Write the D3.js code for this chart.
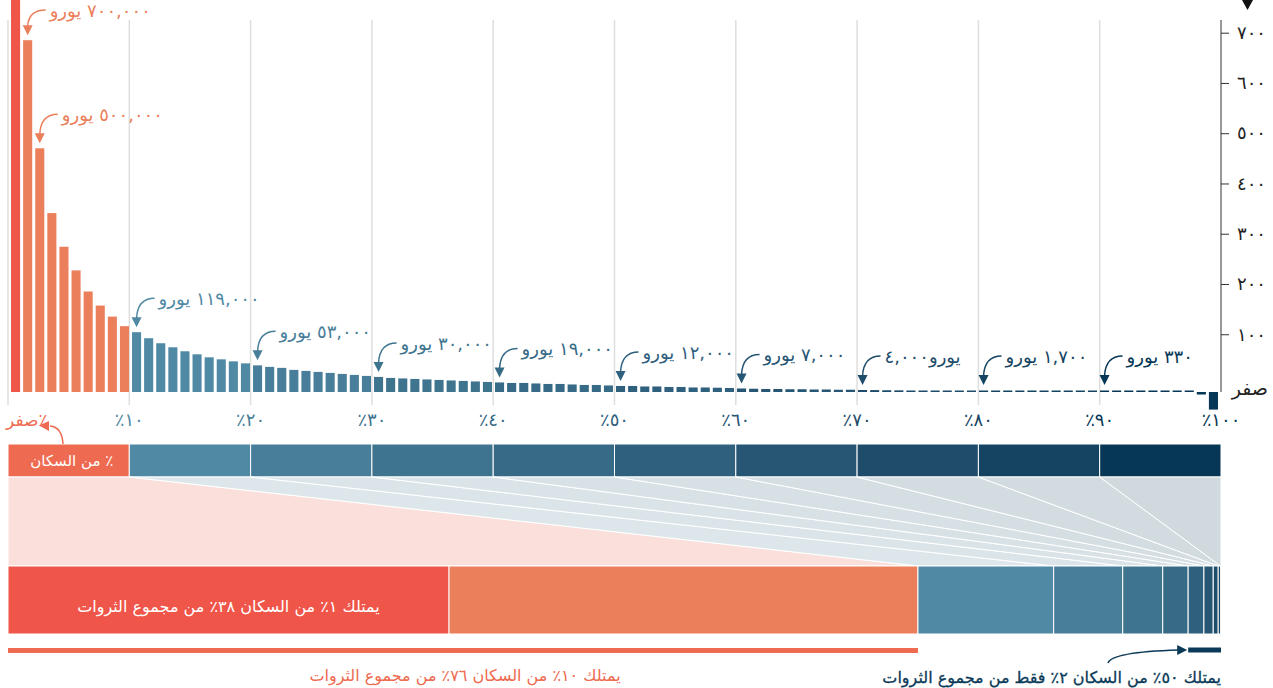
<!DOCTYPE html>
<html>
<head>
<meta charset="utf-8">
<script src="https://cdn.jsdelivr.net/npm/d3@7"></script>
<style>
  body { margin: 0; background: #fff; }
  svg text { font-family: "DejaVu Sans", sans-serif; }
</style>
</head>
<body>
<div id="chart"></div>
<script>
// wealth per percentile, thousands of euros (richest first)
var percentileWealth = [
  1500, 700, 485, 356, 289, 242, 200, 172, 150, 131,
  119, 107, 97, 89, 81, 75, 69, 65, 61, 57,
  53, 50, 48, 44, 42, 40, 38, 36, 34, 32,
  30, 28, 27, 26, 25, 24, 23, 22, 21, 20,
  19, 18, 18, 17, 16, 16, 15, 14, 14, 13,
  12, 12, 11, 11, 10, 10, 9, 9, 8.5, 8,
  7, 6.5, 6, 6, 5.5, 5.5, 5, 5, 4.5, 4.5,
  4, 3.8, 3.5, 3.3, 3, 2.8, 2.6, 2.4, 2.2, 2,
  1.7, 1.5, 1.3, 1.2, 1.0, 0.9, 0.8, 0.7, 0.6, 0.5,
  0.33, 0.25, 0.2, 0.15, 0.1, 0.05, 0.02, 0, -5, -35
];

var yTicks = [100, 200, 300, 400, 500, 600, 700];
var yTickLabels = ["١٠٠", "٢٠٠", "٣٠٠", "٤٠٠", "٥٠٠", "٦٠٠", "٧٠٠"];
var xTicks = [0, 10, 20, 30, 40, 50, 60, 70, 80, 90, 100];
var xTickLabels = ["٪صفر", "١٠٪", "٢٠٪", "٣٠٪", "٤٠٪", "٥٠٪", "٦٠٪", "٧٠٪", "٨٠٪", "٩٠٪", "١٠٠٪"];

// annotated percentiles (1-based) and their labels
var notePercentile = [2, 3, 11, 21, 31, 41, 51, 61, 71, 81, 91];
var noteText = ["٧٠٠,٠٠٠ يورو", "٥٠٠,٠٠٠ يورو", "١١٩,٠٠٠ يورو", "٥٣,٠٠٠ يورو", "٣٠,٠٠٠ يورو",
  "١٩,٠٠٠ يورو", "١٢,٠٠٠ يورو", "٧,٠٠٠ يورو", "يورو٤,٠٠٠", "١,٧٠٠ يورو", "٣٣٠ يورو"];

// share of total wealth (%) : top 1%, percentiles 2-10, then deciles 2..10
var shareGroups = ["top1", "top2_10", "d2", "d3", "d4", "d5", "d6", "d7", "d8", "d9", "d10"];
var wealthShare = [36.4, 38.7, 11.2, 5.7, 3.3, 2.1, 1.3, 0.77, 0.41, 0.2, 0.03];

var populationLabel = "٪ من السكان";
var top1Label = "يمتلك ١٪ من السكان ٣٨٪ من مجموع الثروات";
var top10Label = "يمتلك ١٠٪ من السكان ٧٦٪ من مجموع الثروات";
var bottom50Label = "يمتلك ٥٠٪ من السكان ٢٪ فقط من مجموع الثروات";
var yZeroLabel = "صفر";

// colours
var decileColor = ["#EE6A50", "#5089A4", "#487E99", "#3F748F", "#376A86",
                   "#2F607E", "#275674", "#1F4C6B", "#154462", "#063756"];
var top1Color = "#EF5548", top10Color = "#EB7F5C";

var width = 1273, height = 688;
var left = 8, right = 1221;

var svg = d3.select("#chart").append("svg")
  .attr("width", width)
  .attr("height", height);

var xPct = d3.scaleLinear().domain([0, 100]).range([left, right]);
var xBand = d3.scaleBand().domain(d3.range(1, 101)).range([left, right]).padding(0.25);
var y = d3.scaleLinear().domain([0, 700]).range([392, 40.2]);

function barColor(i) { // i 1-based
  if (i === 1) return top1Color;
  if (i <= 10) return top10Color;
  return decileColor[Math.min(9, Math.floor((i - 1) / 10))];
}

// gridlines
svg.append("g").selectAll("line")
  .data(xTicks.slice(0, 10))
  .enter().append("line")
    .attr("x1", function(d) { return xPct(d); })
    .attr("x2", function(d) { return xPct(d); })
    .attr("y1", 20)
    .attr("y2", 405)
    .style("stroke", "#dedede")
    .style("stroke-width", 1.5);

// bars
svg.append("g").selectAll("rect")
  .data(percentileWealth)
  .enter().append("rect")
    .attr("x", function(d, i) { return xBand(i + 1); })
    .attr("width", xBand.bandwidth())
    .attr("y", function(d) {
      if (d < 0) return y(0);
      var h = Math.max(1.5, y(0) - y(d));
      return Math.max(0, y(0) - h);
    })
    .attr("height", function(d) {
      if (d < 0) return y(d) - y(0);
      var h = Math.max(1.5, y(0) - y(d));
      return y(0) - Math.max(0, y(0) - h);
    })
    .style("fill", function(d, i) { return barColor(i + 1); });

// y axis
svg.append("line")
  .attr("x1", right).attr("x2", right)
  .attr("y1", 20).attr("y2", 392)
  .style("stroke", "#333").style("stroke-width", 1);

var yAxis = svg.append("g")
  .attr("transform", "translate(" + right + ",-7.5)")
  .call(d3.axisRight(y)
    .tickValues(yTicks)
    .tickFormat(function(d, i) { return yTickLabels[i]; })
    .tickSize(8)
    .tickPadding(8));
yAxis.select(".domain").remove();
yAxis.selectAll(".tick line").style("stroke", "#333");
yAxis.selectAll(".tick text")
  .style("font-family", "DejaVu Sans")
  .style("font-size", "18px")
  .style("fill", "#222");

svg.append("text")
  .attr("x", 1268)
  .attr("y", 395)
  .attr("text-anchor", "end")
  .style("font-size", "19px")
  .style("fill", "#222")
  .text(yZeroLabel);

svg.append("path")
  .attr("d", "M1242,0 L1253,0 L1247.5,10 Z")
  .style("fill", "#111");

// x labels
svg.append("g").selectAll("text")
  .data(xTicks)
  .enter().append("text")
    .attr("x", function(d) { return d === 0 ? 6 : xPct(d); })
    .attr("y", 426)
    .attr("direction", "rtl")
    .attr("text-anchor", function(d) { return d === 0 ? "end" : "middle"; })
    .style("font-size", function(d) { return d === 0 ? "17px" : "18px"; })
    .style("fill", function(d, i) {
      if (d === 0) return decileColor[0];
      return decileColor[Math.min(9, i)];
    })
    .text(function(d, i) { return xTickLabels[i]; });

// annotations
svg.append("g").selectAll("g")
  .data(notePercentile)
  .enter().append("g")
    .each(function(p, k) {
      var g = d3.select(this);
      var v = percentileWealth[p - 1];
      var cx = xBand(p) + xBand.bandwidth() / 2;
      var top = Math.min(y(v), 390);
      var base = Math.max(17, top - 27);
      var tx = cx + 22;
      var col = barColor(p);
      g.append("text")
        .attr("x", tx)
        .attr("y", base)
        .attr("direction", "rtl")
        .attr("text-anchor", "end")
        .style("font-size", "18px")
        .style("fill", col)
        .text(noteText[k]);
      g.append("path")
        .attr("d", "M" + (tx - 4) + "," + (base - 7) +
                   " Q" + (cx + 1) + "," + (base - 7) + " " + cx + "," + (top - 14))
        .style("fill", "none")
        .style("stroke", col)
        .style("stroke-width", 1.5);
      g.append("path")
        .attr("d", "M" + (cx - 5) + "," + (top - 15) + " L" + (cx + 5) + "," + (top - 15) +
                   " L" + cx + "," + (top - 5) + " Z")
        .style("fill", col);
    });

// population decile strip
var stripTop = 444, stripBottom = 477, barTop = 566, barBottom = 634;
var deciles = d3.range(10);

svg.append("g").selectAll("rect")
  .data(deciles)
  .enter().append("rect")
    .attr("x", function(d) { return xPct(d * 10); })
    .attr("y", stripTop)
    .attr("width", xPct(10) - xPct(0))
    .attr("height", stripBottom - stripTop)
    .style("fill", function(d) { return decileColor[d]; })
    .style("stroke", "#fff")
    .style("stroke-width", 1);

svg.append("text")
  .attr("x", xPct(10) - 16)
  .attr("y", 466)
  .attr("direction", "rtl")
  .attr("text-anchor", "start")
  .style("font-size", "15px")
  .style("fill", "#fff")
  .text(populationLabel);

// wealth share bar
var cum = [0];
wealthShare.forEach(function(s, i) { cum.push(cum[i] + s); });
var total = cum[cum.length - 1];
var xShare = d3.scaleLinear().domain([0, total]).range([left, right]);

// decile -> share boundaries (decile 1 = top1 + top2_10)
var decStart = [0].concat(cum.slice(2, 11));
var decEnd = cum.slice(2, 12);

var funnelColor = d3.scaleLinear().domain([1, 9]).range(["#dde7eb", "#cfd9de"]);

svg.append("g").selectAll("path")
  .data(deciles)
  .enter().append("path")
    .attr("d", function(d) {
      return "M" + xPct(d * 10) + "," + stripBottom +
             " L" + xPct(d * 10 + 10) + "," + stripBottom +
             " L" + xShare(decEnd[d]) + "," + barTop +
             " L" + xShare(decStart[d]) + "," + barTop + " Z";
    })
    .style("fill", function(d) { return d === 0 ? "#fadfda" : funnelColor(d); })
    .style("stroke", "#fff")
    .style("stroke-width", 1);

var shareColor = [top1Color, top10Color].concat(decileColor.slice(1));

svg.append("g").selectAll("rect")
  .data(wealthShare)
  .enter().append("rect")
    .attr("x", function(d, i) { return xShare(cum[i]); })
    .attr("y", barTop)
    .attr("width", function(d, i) { return xShare(cum[i + 1]) - xShare(cum[i]); })
    .attr("height", barBottom - barTop)
    .style("fill", function(d, i) { return shareColor[i]; })
    .style("stroke", "#fff")
    .style("stroke-width", 1);

svg.append("text")
  .attr("x", (xShare(cum[0]) + xShare(cum[1])) / 2)
  .attr("y", 612)
  .attr("direction", "rtl")
  .attr("text-anchor", "middle")
  .style("font-size", "16px")
  .style("fill", "#fff")
  .text(top1Label);

// brackets under the share bar
svg.append("rect")
  .attr("x", xShare(0))
  .attr("y", 648)
  .attr("width", xShare(cum[2]) - xShare(0))
  .attr("height", 5)
  .style("fill", "#ee6a50");

svg.append("rect")
  .attr("x", xShare(cum[6]))
  .attr("y", 647.5)
  .attr("width", xShare(total) - xShare(cum[6]))
  .attr("height", 5)
  .style("fill", "#0b3a58");

svg.append("text")
  .attr("x", 465)
  .attr("y", 681)
  .attr("direction", "rtl")
  .attr("text-anchor", "middle")
  .style("font-size", "16px")
  .style("fill", "#ee6a50")
  .text(top10Label);

svg.append("text")
  .attr("x", right)
  .attr("y", 683)
  .attr("direction", "rtl")
  .attr("text-anchor", "start")
  .style("font-size", "16px")
  .style("fill", "#0b3a58")
  .style("stroke", "#0b3a58")
  .style("stroke-width", 0.3)
  .text(bottom50Label);

// arrow to the bottom-50 bracket
var bx = xShare(cum[6]);
svg.append("path")
  .attr("d", "M1108,663 Q1112,652 " + (bx - 10) + ",650")
  .style("fill", "none")
  .style("stroke", "#0b3a58")
  .style("stroke-width", 1.5);
svg.append("path")
  .attr("d", "M" + (bx - 11) + ",645 L" + (bx - 1) + ",650 L" + (bx - 11) + ",655 Z")
  .style("fill", "#0b3a58");

// arrow from strip to the zero label
svg.append("path")
  .attr("d", "M63,444 Q62,427 50,426")
  .style("fill", "none")
  .style("stroke", "#ee6a50")
  .style("stroke-width", 1.5);
svg.append("path")
  .attr("d", "M49,421 L39,425.5 L49,431 Z")
  .style("fill", "#ee6a50");
</script>
</body>
</html>
